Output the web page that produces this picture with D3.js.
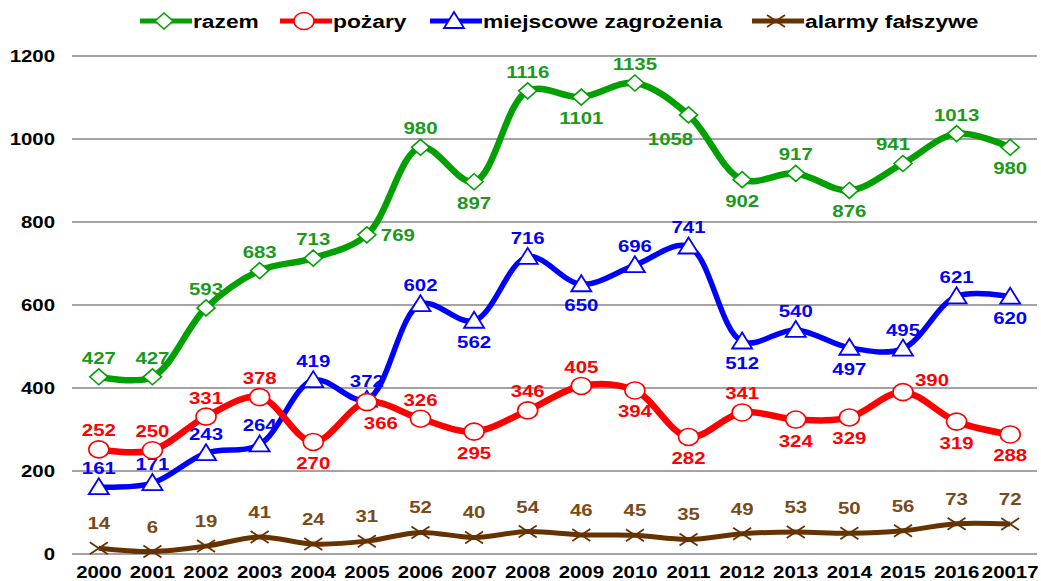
<!doctype html>
<html lang="pl">
<head>
<meta charset="utf-8">
<script src="https://d3js.org/d3.v7.min.js"></script>
<style>
  body { margin: 0; background: #fff; }
  svg { font-family: "Liberation Sans", Arial, sans-serif; font-weight: bold; }
  .grid line { stroke: #858585; stroke-width: 1.4px; }
  .tick-y { font-size: 17px; fill: #000; }
  .tick-x { font-size: 17px; fill: #000; }
  .lbl { font-size: 17px; }
  .leg { font-size: 19px; fill: #000; }
</style>
</head>
<body>
<svg id="chart" width="1041" height="581"></svg>
<script>
// data
const years = ["2000","2001","2002","2003","2004","2005","2006","2007","2008","2009",
               "2010","2011","2012","2013","2014","2015","2016","20017"];
const razem   = [427,427,593,683,713,769,980,897,1116,1101,1135,1058,902,917,876,941,1013,980];
const pozary  = [252,250,331,378,270,366,326,295,346,405,394,282,341,324,329,390,319,288];
const miejsc  = [161,171,243,264,419,372,602,562,716,650,696,741,512,540,497,495,621,620];
const alarmy  = [14,6,19,41,24,31,52,40,54,46,45,35,49,53,50,56,73,72];
const yTicks  = [0,200,400,600,800,1000,1200];

// where each value label sits relative to its point
const razemSide  = ["a","a","a","a","a","r","a","b","a","b","a","bl","b","a","b","al","a","b"];
const pozarySide = ["a","a","a","a","b","br","a","b","a","a","b","b","a","b","b","ar","b","b"];
const miejscSide = ["a","a","a","a","a","a","a","b","a","b","a","a","b","a","b","a","a","b"];
const alarmySide = years.map(() => "A");

const series = [
  {name: "razem", values: razem, side: razemSide, color: "#00a000", lbl: "#1a9a1a", marker: "diamond", width: 6.5},
  {name: "pożary", values: pozary, side: pozarySide, color: "#ff0000", lbl: "#ff0000", marker: "circle", width: 6.5},
  {name: "miejscowe zagrożenia", values: miejsc, side: miejscSide, color: "#0000ff", lbl: "#0000ff", marker: "triangle", width: 5.5},
  {name: "alarmy fałszywe", values: alarmy, side: alarmySide, color: "#663300", lbl: "#7a4a18", marker: "cross", width: 5}
];

const SX = 1.2; // the original picture is stretched sideways

const svg = d3.select("#chart");
const plotL = 72, plotR = 1037, plotT = 56, plotB = 554;

const x = d3.scalePoint().domain(years).range([plotL, plotR]).padding(0.5);
const y = d3.scaleLinear().domain([0, 1200]).range([plotB, plotT]);

function put(sel, fx, fy) {
  sel.attr("transform", (d, i) => `translate(${fx(d, i)},${fy(d, i)}) scale(${SX},1)`);
}

// gridlines
svg.append("g").attr("class", "grid")
  .selectAll("line").data(yTicks).join("line")
  .attr("x1", plotL).attr("x2", plotR)
  .attr("y1", d => y(d)).attr("y2", d => y(d));

svg.append("g").selectAll("text").data(yTicks).join("text")
  .attr("class", "tick-y")
  .attr("text-anchor", "end")
  .text(d => d)
  .call(put, () => 55, d => y(d) + 6);

svg.append("g").selectAll("text").data(years).join("text")
  .attr("class", "tick-x")
  .attr("text-anchor", "middle")
  .text(d => d)
  .call(put, d => x(d), () => 578);

const line = d3.line().curve(d3.curveCatmullRom.alpha(0.5));

function drawMarker(g, type, color, cx, cy) {
  if (type === "diamond") {
    g.append("path").attr("d", `M${cx},${cy-8}L${cx+9},${cy}L${cx},${cy+8}L${cx-9},${cy}Z`)
      .attr("fill", "#fff").attr("stroke", color).attr("stroke-width", 1.6);
  } else if (type === "circle") {
    g.append("ellipse").attr("cx", cx).attr("cy", cy).attr("rx", 10).attr("ry", 8.5)
      .attr("fill", "#fff").attr("stroke", color).attr("stroke-width", 1.6);
  } else if (type === "triangle") {
    g.append("path").attr("d", `M${cx},${cy-9}L${cx+10},${cy+7}L${cx-10},${cy+7}Z`)
      .attr("fill", "#fff").attr("stroke", color).attr("stroke-width", 1.8);
  } else {
    g.append("path").attr("d", `M${cx-9},${cy-6}L${cx+9},${cy+6}M${cx-9},${cy+6}L${cx+9},${cy-6}`)
      .attr("stroke", color).attr("stroke-width", 1.8).attr("fill", "none");
  }
}

const offs = {
  a:  [0, -13], A: [0, -19], b: [0, 27], r: [31, 6], bl: [-18, 30], al: [-10, -13],
  br: [14, 27], ar: [29, -6]
};

// draw in reverse so green sits on top
series.slice().reverse().forEach(s => {
  const g = svg.append("g");
  const pts = s.values.map((v, i) => [x(years[i]), y(v)]);
  g.append("path").attr("d", line(pts))
    .attr("fill", "none").attr("stroke", s.color)
    .attr("stroke-width", s.width).attr("stroke-linejoin", "round");
  pts.forEach(p => drawMarker(g, s.marker, s.color, p[0], p[1]));
  g.selectAll("text").data(s.values).join("text")
    .attr("class", "lbl")
    .attr("fill", s.lbl)
    .attr("text-anchor", "middle")
    .text(d => d)
    .call(put, (d, i) => x(years[i]) + offs[s.side[i]][0], (d, i) => y(d) + offs[s.side[i]][1]);
});

// legend
const legX = [140, 280, 430, 752];
series.forEach((s, i) => {
  const g = svg.append("g").attr("transform", `translate(${legX[i]},21)`);
  g.append("line").attr("x1", 0).attr("x2", 52).attr("y1", 0).attr("y2", 0)
    .attr("stroke", s.color).attr("stroke-width", 5);
  drawMarker(g, s.marker, s.color, 24, 0);
  g.append("text").attr("class", "leg").text(s.name)
    .attr("transform", `translate(53,7) scale(${SX},1)`);
});
</script>
</body>
</html>
